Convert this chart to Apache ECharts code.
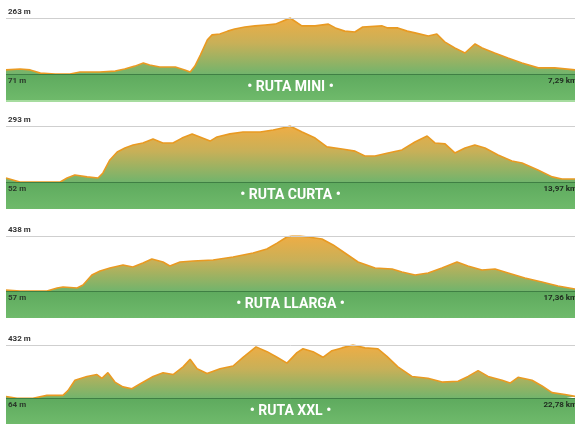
<!DOCTYPE html>
<html>
<head>
<meta charset="utf-8">
<script src="https://cdn.jsdelivr.net/npm/echarts@6/dist/echarts.min.js"></script>
<style>html,body{margin:0;padding:0;background:#fff}#c{width:575px;height:424px}</style>
</head>
<body>
<div id="c"></div>
<script>
const routeNames = ['RUTA MINI', 'RUTA CURTA', 'RUTA LLARGA', 'RUTA XXL'];
const totalKm = [7.29, 13.97, 17.36, 22.78];
const kmLabels = ['7,29 km', '13,97 km', '17,36 km', '22,78 km'];
const minElev = [71, 52, 57, 64];
const maxElev = [263, 293, 438, 432];

const dist1 = [0,0.18,0.31,0.44,0.63,0.82,0.95,1.20,1.40,1.52,1.65,1.76,1.84,1.97,2.17,2.29,2.36,2.42,2.49,2.58,2.64,2.74,2.84,2.93,3.06,3.19,3.32,3.45,3.55,3.64,3.79,3.96,4.13,4.22,4.34,4.47,4.57,4.82,4.89,5.02,5.14,5.24,5.41,5.52,5.62,5.75,5.88,6.01,6.10,6.26,6.43,6.61,6.82,7.03,7.29];
const elev1 = [85,88,85,74,71,71,78,78,81,88,98,109,102,95,95,85,78,98,136,188,205,208,218,225,232,236,239,242,253,263,236,236,242,229,218,215,232,236,229,229,218,212,201,208,181,160,143,174,160,143,126,109,92,92,85];

const dist2 = [0,0.17,0.34,0.66,1.33,1.50,1.69,1.99,2.26,2.38,2.55,2.73,2.92,3.12,3.36,3.61,3.85,4.10,4.32,4.57,4.76,5.01,5.18,5.50,5.82,6.24,6.56,6.90,6.97,7.27,7.59,7.88,8.25,8.57,8.81,9.06,9.38,9.72,10.04,10.34,10.53,10.78,11.02,11.27,11.51,11.76,12.08,12.42,12.67,13.06,13.41,13.65,13.97];
const elev2 = [69,61,52,52,52,69,82,74,69,91,147,181,198,211,220,237,220,220,241,259,246,228,246,259,267,267,276,289,293,267,241,203,194,185,164,164,177,190,224,250,220,216,177,198,211,198,168,142,134,104,74,65,65];

const dist3 = [0,0.43,1.25,1.56,1.74,2.17,2.35,2.62,2.87,3.17,3.57,3.87,4.18,4.45,4.79,5.00,5.31,5.71,6.32,6.93,7.54,7.96,8.27,8.57,8.73,8.97,9.21,9.64,9.98,10.34,10.74,11.26,11.78,12.08,12.48,12.88,13.30,13.76,14.09,14.52,14.92,15.32,15.83,16.35,16.84,17.36];
const elev3 = [64,57,57,78,85,78,99,168,196,216,237,223,251,279,258,230,258,265,272,293,320,348,389,431,438,438,431,417,376,320,258,216,209,189,168,182,216,258,230,202,209,182,147,119,92,71];

const dist4 = [0,0.44,1.08,1.64,2.28,2.48,2.76,3.24,3.64,3.84,4.08,4.36,4.68,5.04,5.36,5.89,6.29,6.69,7.09,7.37,7.65,8.05,8.57,9.09,9.49,10.01,10.45,10.85,11.25,11.65,11.89,12.29,12.69,13.05,13.45,13.89,14.37,14.89,15.25,15.69,16.25,16.89,17.46,18.10,18.50,18.90,19.30,19.86,20.18,20.50,21.06,21.46,21.86,22.38,22.78];
const elev4 = [77,64,64,84,84,117,189,215,228,202,241,176,143,130,163,215,241,228,281,333,268,235,268,287,347,419,386,347,307,379,406,386,347,393,412,432,412,406,353,281,215,202,176,182,215,255,215,189,169,209,189,149,103,90,77];

const dists = [dist1, dist2, dist3, dist4];
const elevs = [elev1, elev2, elev3, elev4];

// layout (pixels)
const tops = [18, 126, 236, 345];
const baselines = [74, 182, 291, 401];
const bandBottoms = [101, 209, 318, 428];
const H = 424;

const grids = [], xAxes = [], yAxes = [], series = [];
for (let i = 0; i < 4; i++) {
  const bandRatio = (bandBottoms[i] - baselines[i]) / (baselines[i] - tops[i]);
  const axisMin = minElev[i] - (maxElev[i] - minElev[i]) * bandRatio;
  grids.push({ left: 6, right: 0, top: tops[i], bottom: H - bandBottoms[i] });
  xAxes.push({ type: 'value', gridIndex: i, min: 0, max: totalKm[i], show: false });
  yAxes.push({ type: 'value', gridIndex: i, min: axisMin, max: maxElev[i], show: false });
  const data = dists[i].map((d, k) => [d, elevs[i][k]]);
  series.push({
    type: 'line', xAxisIndex: i, yAxisIndex: i, data: data,
    showSymbol: false, symbol: 'none', silent: true,
    lineStyle: { color: '#e99a22', width: 1.6 },
    areaStyle: {
      origin: minElev[i],
      opacity: 1,
      color: new echarts.graphic.LinearGradient(0, 0, 0, 1, [
        { offset: 0, color: '#efad45' },
        { offset: 0.45, color: '#c8b058' },
        { offset: 1, color: '#72b46c' }
      ])
    },
    markArea: {
      silent: true,
      itemStyle: {
        color: new echarts.graphic.LinearGradient(0, 0, 0, 1, [
          { offset: 0, color: '#5eaa5e' },
          { offset: 1, color: '#6fba6b' }
        ])
      },
      label: {
        show: true, position: 'inside', color: '#ffffff',
        fontFamily: 'Roboto', fontWeight: 'bold', fontSize: 14,
        formatter: '\u2022 ' + routeNames[i] + ' \u2022'
      },
      data: [[{ yAxis: minElev[i] }, { yAxis: axisMin }]]
    },
    markLine: {
      silent: true, symbol: 'none', animation: false,
      data: [
        { yAxis: maxElev[i], lineStyle: { color: '#cfcfcf', width: 1, type: 'solid' },
          label: { show: true, position: 'insideStartTop', distance: [2, 2], formatter: maxElev[i] + ' m',
                   color: '#333', fontFamily: 'Roboto', fontWeight: 'bold', fontSize: 8 } },
        { yAxis: minElev[i], lineStyle: { color: '#3f7f44', width: 1, type: 'solid' },
          label: { show: true, position: 'insideStartBottom', distance: [2, 3], formatter: minElev[i] + ' m',
                   color: '#2b3a2b', fontFamily: 'Roboto', fontWeight: 'bold', fontSize: 8 } },
        { yAxis: minElev[i], lineStyle: { color: '#3f7f44', width: 1, type: 'solid' },
          label: { show: true, position: 'insideEndBottom', distance: [-2, 3], formatter: kmLabels[i],
                   color: '#1f2a1f', fontFamily: 'Roboto', fontWeight: 'bold', fontSize: 8 } },
        { yAxis: axisMin, lineStyle: { color: '#a6dc9f', width: 2, type: 'solid' }, label: { show: false } }
      ]
    }
  });
}

const chart = echarts.init(document.getElementById('c'), null, { renderer: 'canvas' });
chart.setOption({
  animation: false,
  backgroundColor: '#ffffff',
  grid: grids, xAxis: xAxes, yAxis: yAxes, series: series
});
</script>
</body>
</html>
